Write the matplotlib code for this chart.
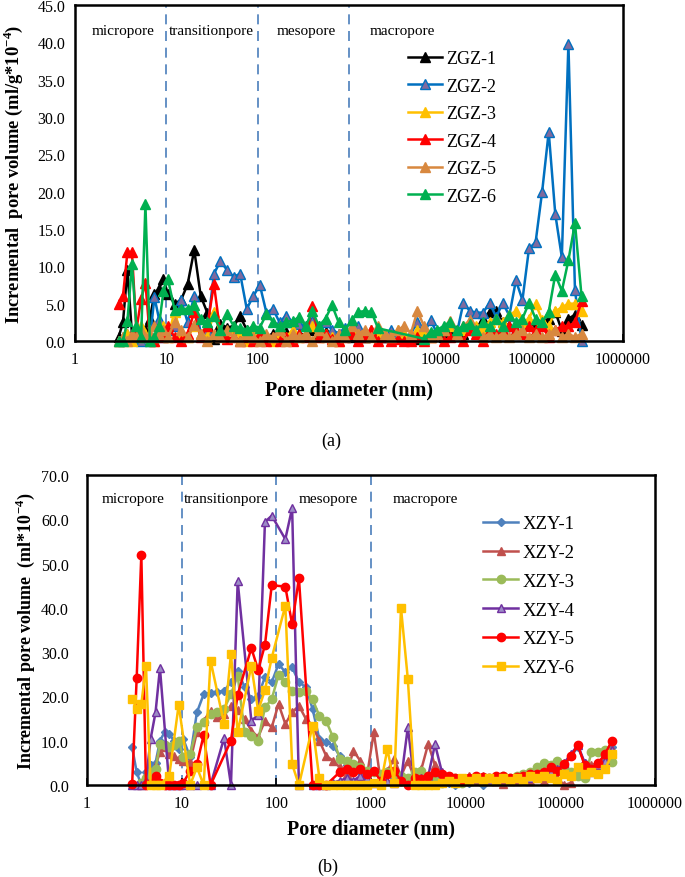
import numpy as np
import matplotlib
matplotlib.use('Agg')
from matplotlib import pyplot as plt
from matplotlib import transforms
from matplotlib.ticker import FixedLocator, FuncFormatter, NullLocator

plt.rcParams['font.family'] = ['Liberation Serif', 'DejaVu Serif']
plt.rcParams['mathtext.fontset'] = 'custom'
plt.rcParams['mathtext.rm'] = 'Liberation Serif'
plt.rcParams['mathtext.bf'] = 'Liberation Serif:bold'

nan = np.nan

# pore diameters (nm) shared by all curves
pore_d = [3.0, 3.35, 3.75, 4.2, 4.7, 5.3, 5.9, 6.6, 7.4, 8.3, 9.3,
          10.4, 12.3, 14.5, 17.1, 20.2, 23.8, 28.1, 33.2, 39.1, 46.2,
          54.5, 64.3, 75.9, 89.5, 105.6, 124.6, 147, 173.5, 204.7, 241.6,
          285, 336, 397, 468, 553, 652, 770, 908, 1072, 1265,
          1492, 1761, 2078, 2452, 2893, 3414, 4028, 4754, 5609, 6619,
          7810, 9216, 10875, 12832, 15142, 17868, 21084, 24879, 29357, 34641,
          40877, 48234, 56916, 67161, 79250, 93515, 110348, 130210, 153648, 181304,
          213939, 252448, 297889, 351509]

# panel (a), ml/g*10^-4
zgz_1 = [0.5, 2.5, 9.5, 1.0, 0.3, 0.5, 1.5, 3.0, 6.3, 7.0,
         8.3, 6.3, 5.0, 5.5, 7.6, 12.2, 6.0, 3.8, 0.3, 2.3,
         1.8, 2.0, 3.3, 1.5, 1.2, 1.5, 0.5, 1.0, 0.8, 1.2,
         0.5, 1.0, 0.8, 1.5, 0.8, 1.2, 0.5, 1.0, 1.3, 0.6,
         1.0, 0.5, 1.2, 0.8, 0.5, 1.0, 0.6, 0.8, 0.5, 0.3,
         0.5, 0.8, 1.0, 0.6, 1.2, 1.5, 1.0, 2.0, 1.5, 3.0,
         3.9, 4.0, 2.5, 2.0, 1.5, 2.5, 2.8, 2.0, 2.5, 3.0,
         3.9, 1.4, 3.0, 3.5, 2.1]
zgz_2 = [0.0, 0.5, 1.0, 0.3, 0.8, 0.0, 0.5, 0.0, 5.9, 3.0,
         0.5, 1.5, 2.0, 5.5, 2.5, 6.0, 1.0, 1.5, 9.0, 10.7,
         9.5, 8.6, 9.0, 4.3, 6.0, 7.5, 3.8, 4.3, 2.5, 3.4,
         2.5, 2.3, 2.0, 2.7, 2.0, 2.5, 1.5, 1.0, 1.8, 1.0,
         2.0, 0.5, 1.5, 1.0, 0.5, 1.5, 1.0, 0.5, 1.0, 2.5,
         1.0, 2.8, 1.0, 1.5, 2.0, 1.0, 5.1, 4.0, 3.8, 3.8,
         5.1, 3.2, 5.1, 3.4, 8.1, 5.5, 12.4, 13.2, 20.0, 28.0,
         17.0, 11.2, 39.8, 6.8, 0.0]
zgz_3 = [0.0, 0.5, 1.0, 0.0, 1.5, 2.0, 1.0, 0.5, 0.0, 1.0,
         2.0, 0.5, 3.9, 1.0, 0.5, 2.0, 1.0, 0.5, 3.9, 1.0,
         0.5, 1.5, 0.5, 0.0, 1.0, 1.5, 0.5, 0.0, 1.0, 0.5,
         1.5, 0.5, 1.0, 2.0, 0.5, 1.0, 0.5, 0.0, 1.0, 1.5,
         1.0, 0.5, 1.5, 0.5, 1.0, 0.5, 1.5, 1.0, 0.5, 1.5,
         1.0, 0.5, 1.0, 1.5, 2.0, 1.0, 1.5, 2.5, 2.0, 1.5,
         2.5, 3.0, 2.5, 3.5, 4.0, 2.5, 3.0, 5.0, 2.8, 2.0,
         4.0, 4.5, 5.0, 5.0, 4.0]
zgz_4 = [5.0, 6.0, 11.9, 11.9, 1.5, 5.6, 7.8, 0.5, 0.0, 1.0,
         0.5, 2.0, 0.5, 0.0, 1.0, 3.9, 0.5, 2.0, 7.6, 1.0,
         0.3, 0.5, 0.0, 0.5, 0.0, 1.0, 0.0, 0.5, 0.0, 0.5,
         0.0, 1.0, 0.5, 4.7, 0.5, 1.0, 0.3, 0.0, 0.5, 1.0,
         0.0, 0.5, 1.5, 0.0, 0.5, 0.0, 0.3, 0.0, 0.0, 0.5,
         0.0, 0.5, 1.0, 0.0, 0.5, 1.0, 0.0, 1.5, 1.0, 0.0,
         1.5, 1.0, 1.5, 2.0, 1.5, 1.0, 2.0, 1.5, 2.0, 0.5,
         1.5, 2.0, 2.0, 2.5, 5.3]
zgz_5 = [0.0, 0.5, 0.0, 1.0, 0.5, 1.5, 0.5, 1.0, 2.0, 1.0,
         1.5, 0.5, 2.5, 1.5, 0.5, 2.2, 1.0, 0.0, 1.0, 0.5,
         1.5, 0.5, 0.0, 1.0, 0.5, 0.0, 1.0, 0.5, 1.5, 0.0,
         1.0, 0.5, 1.0, 0.0, 1.5, 0.5, 0.0, 1.0, 0.5, 2.0,
         1.0, 1.5, 0.5, 2.0, 1.0, 0.5, 1.5, 2.0, 1.0, 4.0,
         2.0, 0.5, 1.0, 1.5, 2.7, 1.0, 2.0, 2.8, 1.5, 0.5,
         1.0, 0.5, 1.0, 0.5, 1.0, 1.5, 0.5, 1.0, 0.5, 1.0,
         1.5, 0.5, 1.0, 0.5, 1.0]
zgz_6 = [0.0, 0.0, 2.7, 10.3, 2.0, 0.5, 18.3, 0.0, 0.5, 2.0,
         6.7, 8.3, 4.2, 4.3, 4.3, 4.8, 3.0, 2.5, 3.3, 1.5,
         3.6, 2.0, 1.8, 1.5, 2.0, 1.8, 3.6, 2.6, 2.0, 2.6,
         2.7, 3.2, 2.0, 4.0, 2.0, 3.0, 4.8, 2.5, 1.5, 2.8,
         3.9, 4.0, 3.9, 1.7, nan, nan, nan, nan, nan, nan,
         0.3, 1.2, 1.5, 2.0, 2.6, 1.5, 2.0, 2.3, 1.5, 2.5,
         2.0, 3.0, 2.0, 3.5, 2.5, 3.0, 5.1, 3.0, 2.5, 3.9,
         8.9, 6.7, 10.8, 15.8, 6.0]

# panel (b), ml*10^-4
xzy_1 = [8.5, 2.9, 0.0, 2.9, 4.4, 5.0, 10.0, 11.9, 11.5, 10.0,
         8.1, 10.4, 6.3, 16.4, 20.5, 20.8, 21.0, 21.3, 23.2, 25.8,
         22.1, 19.5, 20.0, 24.4, 23.2, 27.3, 25.5, 26.6, 23.2, 22.1,
         17.2, 10.4, 9.7, 8.9, 6.6, 4.4, 3.5, 3.0, 2.5, 3.0,
         2.0, 2.5, 1.5, 2.0, 1.0, 1.5, 1.0, 2.0, 1.5, 1.0,
         0.5, 0.0, 1.0, 0.5, 1.0, 0.0, 1.0, 1.5, 1.0, 1.5,
         1.5, 2.0, 2.0, 2.5, 3.0, 3.5, 3.0, 4.5, 6.5, 8.5,
         5.0, 3.5, 5.0, 6.0, 8.5]
xzy_2 = [nan, nan, 0.0, 0.5, 2.0, 4.4, 7.4, 8.5, 7.0, 6.6,
         5.9, 5.5, 5.2, 12.0, 14.5, 16.8, 15.3, 16.0, 17.9, 17.0,
         15.0, 12.3, 10.8, 14.5, 13.0, 18.3, 13.8, 16.4, 17.9, 15.0,
         13.4, 10.0, 6.6, 5.5, 4.0, 2.5, 7.7, 5.5, 2.0, 11.9,
         1.0, 3.2, 5.9, 2.0, 5.5, 1.5, 3.6, 9.3, 4.4, 1.5,
         2.0, 1.0, 1.5, 2.0, 1.0, 2.0, 1.5, 1.0, 0.2, 1.5,
         1.0, 1.5, 1.0, 1.5, 1.0, 2.0, 1.5, 0.0, 0.5, 3.0,
         3.2, 4.5, 5.0, 6.0, 8.1]
xzy_3 = [nan, nan, 0.5, 1.5, 2.9, 3.6, 9.3, 9.0, 8.5, 9.0,
         10.0, 6.3, 7.0, 13.0, 14.3, 16.0, 16.4, 17.2, 20.5, 24.7,
         11.9, 11.0, 10.0, 17.5, 19.4, 24.8, 23.2, 21.3, 20.9, 21.3,
         19.4, 15.6, 14.5, 10.8, 5.9, 5.5, 4.7, 4.0, 3.2, 3.0,
         2.5, 3.0, 2.5, 2.0, 1.5, 3.0, 3.2, 2.0, 1.0, 0.5,
         1.0, 1.5, 0.5, 1.0, 1.5, 1.0, 1.5, 1.5, 2.0, 1.5,
         2.0, 2.5, 3.0, 4.0, 5.0, 4.5, 5.5, 4.0, 3.0, 2.0,
         1.5, 7.4, 7.4, 8.0, 5.1]
xzy_4 = [0.0, 0.0, 0.0, 1.0, 10.4, 16.4, 26.4, nan, 0.0, 0.0,
         0.0, 0.0, 0.0, 0.0, nan, 0.0, nan, 10.6, 0.0, 46.0,
         nan, 14.5, 15.8, 59.4, 60.8, nan, 55.5, 62.5, 0.0, nan,
         0.0, 0.0, 0.0, 0.5, 1.0, 1.5, 1.0, 2.0, 1.5, 0.5,
         0.5, 1.0, 0.5, 1.0, 13.0, 0.5, 1.5, 2.0, 9.2, 3.0,
         1.0, 1.5, 1.5, 1.0, 1.5, 1.5, 1.0, 1.0, 1.5, 1.0,
         1.5, 2.0, 1.5, 2.0, 2.5, 3.0, 3.5, 5.0, 7.0, 9.0,
         5.0, 3.0, 4.5, 5.5, 8.0]
xzy_5 = [0.2, 24.2, 52.0, 0.0, 0.5, 2.0, 0.5, 0.0, 0.0, 0.0,
         0.0, 0.5, 3.2, 4.7, 11.3, 0.0, nan, nan, 10.0, 20.4,
         nan, 30.9, 26.0, 31.6, 45.1, nan, 44.8, 36.3, 46.7, nan,
         0.0, 0.0, 0.0, nan, 2.9, 3.6, 3.0, 3.5, 2.5, 3.2,
         1.0, 2.5, 3.2, 1.0, 0.0, 1.5, 1.4, 2.0, 3.0, 2.5,
         2.1, 1.5, 1.0, 1.5, 2.0, 1.8, 1.5, 2.0, 2.0, 1.5,
         1.8, 2.0, 2.5, 2.5, 3.0, 4.0, 3.2, 4.7, 6.5, 9.0,
         4.4, 3.5, 5.0, 7.0, 10.0]
xzy_6 = [19.4, 17.2, 18.3, 26.9, 0.0, 0.0, 0.0, nan, 2.1, nan,
         18.1, nan, 0.0, 4.0, 0.0, 28.1, nan, 13.8, 29.6, 11.9,
         nan, 26.9, 16.8, 21.4, 28.7, nan, 40.5, 4.7, 0.0, nan,
         13.3, 1.6, 0.0, 0.0, 0.0, 0.0, 0.0, 0.0, 0.0, 0.5,
         0.0, 8.1, 0.5, 40.0, 24.0, 0.0, 0.0, 0.0, 0.0, 0.5,
         1.0, 0.5, 1.5, 1.0, 1.5, 1.0, 1.5, 1.0, 1.5, 1.0,
         1.5, 1.0, 2.0, 1.5, 2.0, 1.5, 1.0, 2.5, 2.0, 4.0,
         2.5, 3.0, 2.5, 3.5, 7.0]

zgz_names = ['ZGZ-1', 'ZGZ-2', 'ZGZ-3', 'ZGZ-4', 'ZGZ-5', 'ZGZ-6']
xzy_names = ['XZY-1', 'XZY-2', 'XZY-3', 'XZY-4', 'XZY-5', 'XZY-6']
decade_ticks = [1, 10, 100, 1000, 10000, 100000, 1000000]
region_names = ['micropore', 'transitionpore', 'mesopore', 'macropore']
region_bounds = [10, 100, 1000]

zgz_styles = [
    dict(color='black', marker='^'),
    dict(color='#0070C0', marker='^', markerfacecolor='#7F6A9E'),
    dict(color='#FFC000', marker='^'),
    dict(color='#FF0000', marker='^'),
    dict(color='#D8883F', marker='^'),
    dict(color='#00B050', marker='^'),
]
xzy_styles = [
    dict(color='#4F81BD', marker='D', markersize=4),
    dict(color='#C0504D', marker='^', markersize=6),
    dict(color='#9BBB59', marker='o', markersize=6),
    dict(color='#7030A0', marker='^', markersize=6, markerfacecolor='#9C8CC6'),
    dict(color='#FF0000', marker='o', markersize=6),
    dict(color='#FFC000', marker='s', markersize=6),
]


def draw_panel(ax, curves, names, styles, ymax, ystep, ylabel, ylabel_size, label_pos,
               region_x, leg_anchor, leg_size, leg_space, ytick_pad):
    x = np.array(pore_d, dtype=float)
    for vals, name, st in zip(curves, names, styles):
        y = np.array(vals, dtype=float)
        ok = ~np.isnan(y)
        kw = dict(lw=1.8, markersize=7, clip_on=False)
        kw.update(st)
        ax.plot(x[ok], y[ok], label=name, **kw)

    for b in region_bounds:
        ax.axvline(b, color='#4A7EBB', lw=1.2, ls=(0, (6, 4)), zorder=0)

    trans = transforms.blended_transform_factory(ax.transData, ax.transAxes)
    for name, xp in zip(region_names, region_x):
        ax.text(xp, 0.925, name, transform=trans, ha='center', va='center', fontsize=11)

    ax.set_xscale('log')
    ax.set_xlim(1, 1000000)
    ax.set_ylim(0, ymax)
    ax.xaxis.set_major_locator(FixedLocator(decade_ticks))
    ax.xaxis.set_minor_locator(NullLocator())
    ax.xaxis.set_major_formatter(FuncFormatter(lambda v, p: '%d' % v))
    ax.set_yticks(np.arange(0, ymax + 0.01, ystep))
    ax.yaxis.set_major_formatter(FuncFormatter(lambda v, p: '%.1f' % v))
    ax.tick_params(axis='x', direction='in', length=5, width=1.2, labelsize=11.5, pad=7)
    ax.tick_params(axis='y', length=0, labelsize=11.5, pad=ytick_pad)
    for sp in ax.spines.values():
        sp.set_linewidth(1.8)

    ax.set_xlabel('Pore diameter (nm)', fontsize=14.5, fontweight='bold', va='center')
    ax.set_ylabel(ylabel, fontsize=ylabel_size, fontweight='bold', va='center')
    ax.xaxis.set_label_coords(0.5, label_pos[1])
    ax.yaxis.set_label_coords(label_pos[0], 0.5)

    ax.legend(loc='upper left', bbox_to_anchor=leg_anchor, frameon=False,
              fontsize=leg_size, handlelength=1.9, handletextpad=0.2,
              labelspacing=leg_space, borderaxespad=0, borderpad=0)


def main():
    fig = plt.figure(figsize=(6.85, 8.78), dpi=100)
    ax_a = fig.add_axes([0.1095, 0.6105, 0.80, 0.3827])
    ax_b = fig.add_axes([0.127, 0.1048, 0.829, 0.3531])

    draw_panel(ax_a, [zgz_1, zgz_2, zgz_3, zgz_4, zgz_5, zgz_6], zgz_names, zgz_styles,
               45, 5, r'Incremental  pore volume (ml/g*10$^{\mathbf{-4}}$)', 13.3,
               (-0.112, -0.143), [3.35, 31, 338, 3800], (0.608, 0.865), 13, 0.58, 7)
    draw_panel(ax_b, [xzy_1, xzy_2, xzy_3, xzy_4, xzy_5, xzy_6], xzy_names, xzy_styles,
               70, 10, r'Incremental pore volume  (ml*10$^{\mathbf{-4}}$)', 13,
               (-0.109, -0.139), [3.06, 30, 351, 3720], (0.697, 0.87), 13.5, 0.62, 13)

    fig.text(0.483, 0.4977, '(a)', ha='center', va='center', fontsize=13)
    fig.text(0.479, 0.0125, '(b)', ha='center', va='center', fontsize=13)

    fig.savefig('out.png', dpi=100)


if __name__ == '__main__':
    main()
